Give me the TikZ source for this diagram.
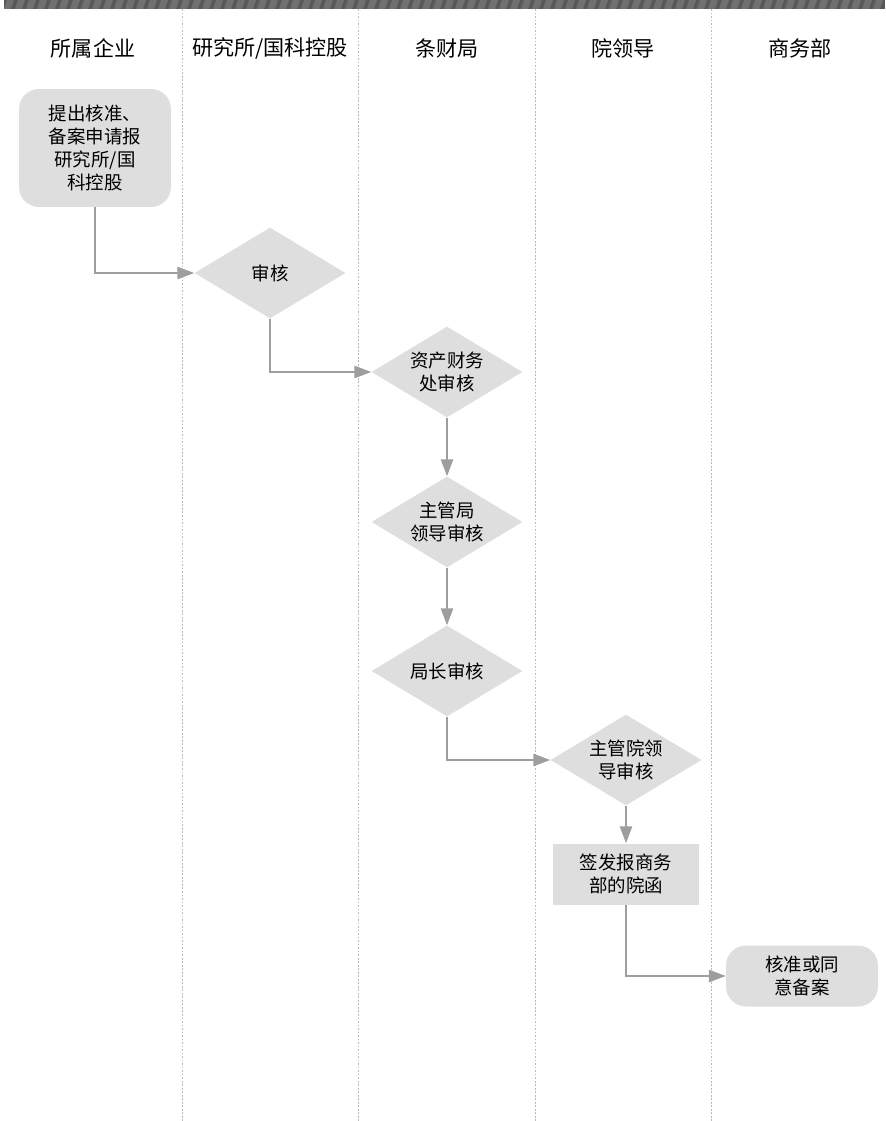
\documentclass[tikz,border=0pt]{standalone}
\usepackage{fontspec}
\setmainfont{Noto Sans CJK SC}
\usetikzlibrary{arrows.meta,shapes.geometric}
\definecolor{boxgray}{RGB}{221,222,221}
\definecolor{linkgray}{RGB}{158,158,158}
\definecolor{lanegray}{RGB}{185,185,185}
\definecolor{banddark}{RGB}{88,88,88}
\definecolor{bandlight}{RGB}{112,112,112}
\begin{document}
\begin{tikzpicture}[
  x = 0.02cm, y = -0.02cm,
  lane/.style = {draw = lanegray, line width = 0.5pt, dash pattern = on 1pt off 1pt},
  lanetitle/.style = {font = \fontsize{12}{14}\selectfont},
  body/.style = {fill = boxgray, align = center, inner sep = 0pt,
    font = \fontsize{10.5}{13.2}\selectfont},
  terminal/.style = {body, rounded corners = 0.4cm, minimum width = 3.04cm},
  decision/.style = {body, diamond, aspect = 1.66,
    minimum width = 3.02cm, minimum height = 1.82cm},
  process/.style = {body, minimum width = 2.94cm, minimum height = 1.22cm},
  link/.style = {draw = linkgray, line width = 0.8pt,
    -{Triangle[length = 9.5pt, width = 7pt]}}
]

\useasboundingbox (0,0) rectangle (885,1121);

\begin{scope}
  \clip (4,0) rectangle (885,9);
  \fill[banddark] (4,0) rectangle (885,9);
  \foreach \i in {0,...,81}
    \fill[bandlight] (4+11*\i,9) -- ++(7,0) -- ++(3,-9) -- ++(-7,0) -- cycle;
\end{scope}

\foreach \x in {182, 358, 535, 711}
  \draw[lane] (\x,9) -- (\x,1121);

\node[lanetitle] (lane1) at (93,48)  {所属企业};
\node[lanetitle] (lane2) at (270,48) {研究所/国科控股};
\node[lanetitle] (lane3) at (447,48) {条财局};
\node[lanetitle] (lane4) at (623,48) {院领导};
\node[lanetitle] (lane5) at (800,48) {商务部};

\node[terminal, minimum height = 2.36cm] (submit) at (95,148)
  {提出核准、\\备案申请报\\研究所/国\\科控股};
\node[decision] (instaudit) at (270,273) {审核};
\node[decision] (finance) at (447,372) {资产财务\\处审核};
\node[decision] (bureaulead) at (447,522) {主管局\\领导审核};
\node[decision] (director) at (447,671) {局长审核};
\node[decision] (academy) at (626,760) {主管院领\\导审核};
\node[process] (letter) at (626,874) {签发报商务\\部的院函};
\node[terminal, minimum height = 1.22cm] (approve) at (802,976)
  {核准或同\\意备案};

\draw[link] (submit.south) |- (instaudit.west);
\draw[link] (instaudit.south) |- (finance.west);
\draw[link] (finance) -- (bureaulead);
\draw[link] (bureaulead) -- (director);
\draw[link] (director.south) |- (academy.west);
\draw[link] (academy) -- (letter);
\draw[link] (letter.south) |- (approve.west);

\end{tikzpicture}
\end{document}
